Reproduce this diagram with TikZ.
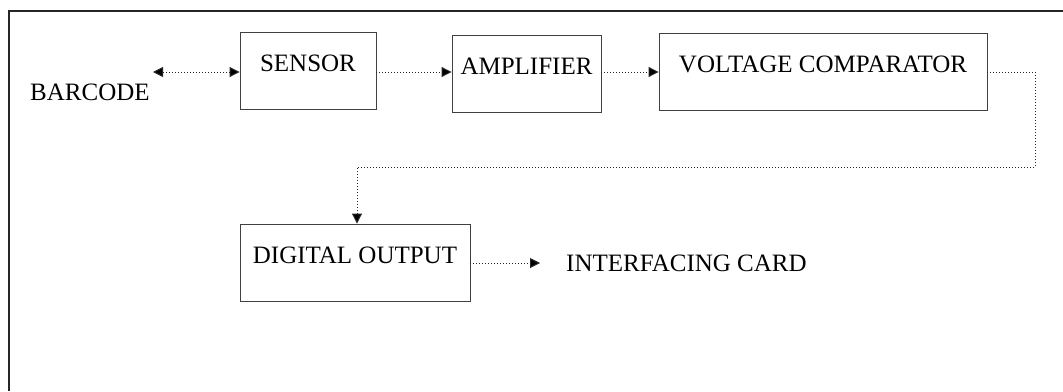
\documentclass[tikz,border=0pt]{standalone}
\usepackage{fontspec}
\setmainfont{Liberation Serif}
\usetikzlibrary{arrows.meta}
\begin{document}
\begin{tikzpicture}[x=1pt,y=-1pt,
  every node/.style={font=\fontsize{25}{29}\selectfont},
  blockbox/.style={draw=black!75, line width=0.9pt, inner sep=0pt, text height=39pt, text depth=38pt},
  conn/.style={dotted, line width=1pt, draw=black!85},
  tip/.style={-{Triangle[length=10pt,width=10pt,fill=black]}},
  frame/.style={line width=1.6pt, draw=black!85}]
\useasboundingbox (0,0) rectangle (1063,391);
\draw[frame] (9,391) -- (9,11) -- (1063,11);

\node[anchor=west, inner sep=0pt] (barcode) at (30,92) {BARCODE};
\node[blockbox, minimum width=136pt] (sensor) at (308,71) {SENSOR};
\node[blockbox, minimum width=149pt] (amp) at (526.5,74) {AMPLIFIER};
\node[blockbox, minimum width=328pt] (vc) at (823,71.5) {VOLTAGE COMPARATOR};
\node[blockbox, minimum width=230pt] (dout) at (355,262.5) {DIGITAL OUTPUT};
\node[anchor=west, inner sep=0pt] (icard) at (566,263) {INTERFACING CARD};

\coordinate (bcend) at (153,72);
\coordinate (r1) at (1035,72);
\coordinate (r2) at (1035,167);
\coordinate (r3) at (357,167);

\draw[conn, {Triangle[length=10pt,width=10pt,fill=black]}-{Triangle[length=10pt,width=10pt,fill=black]}] (bcend) -- (sensor.west |- bcend);
\draw[conn, tip] (sensor.east |- bcend) -- (amp.west |- bcend);
\draw[conn, tip] (amp.east |- bcend) -- (vc.west |- bcend);
\draw[conn, tip] (vc.east |- r1) -- (r1) -- (r2) -- (r3) -- (r3 |- dout.north);
\draw[conn, tip] (dout.east |- icard.west) -- ([xshift=-26pt]icard.west);
\end{tikzpicture}
\end{document}
